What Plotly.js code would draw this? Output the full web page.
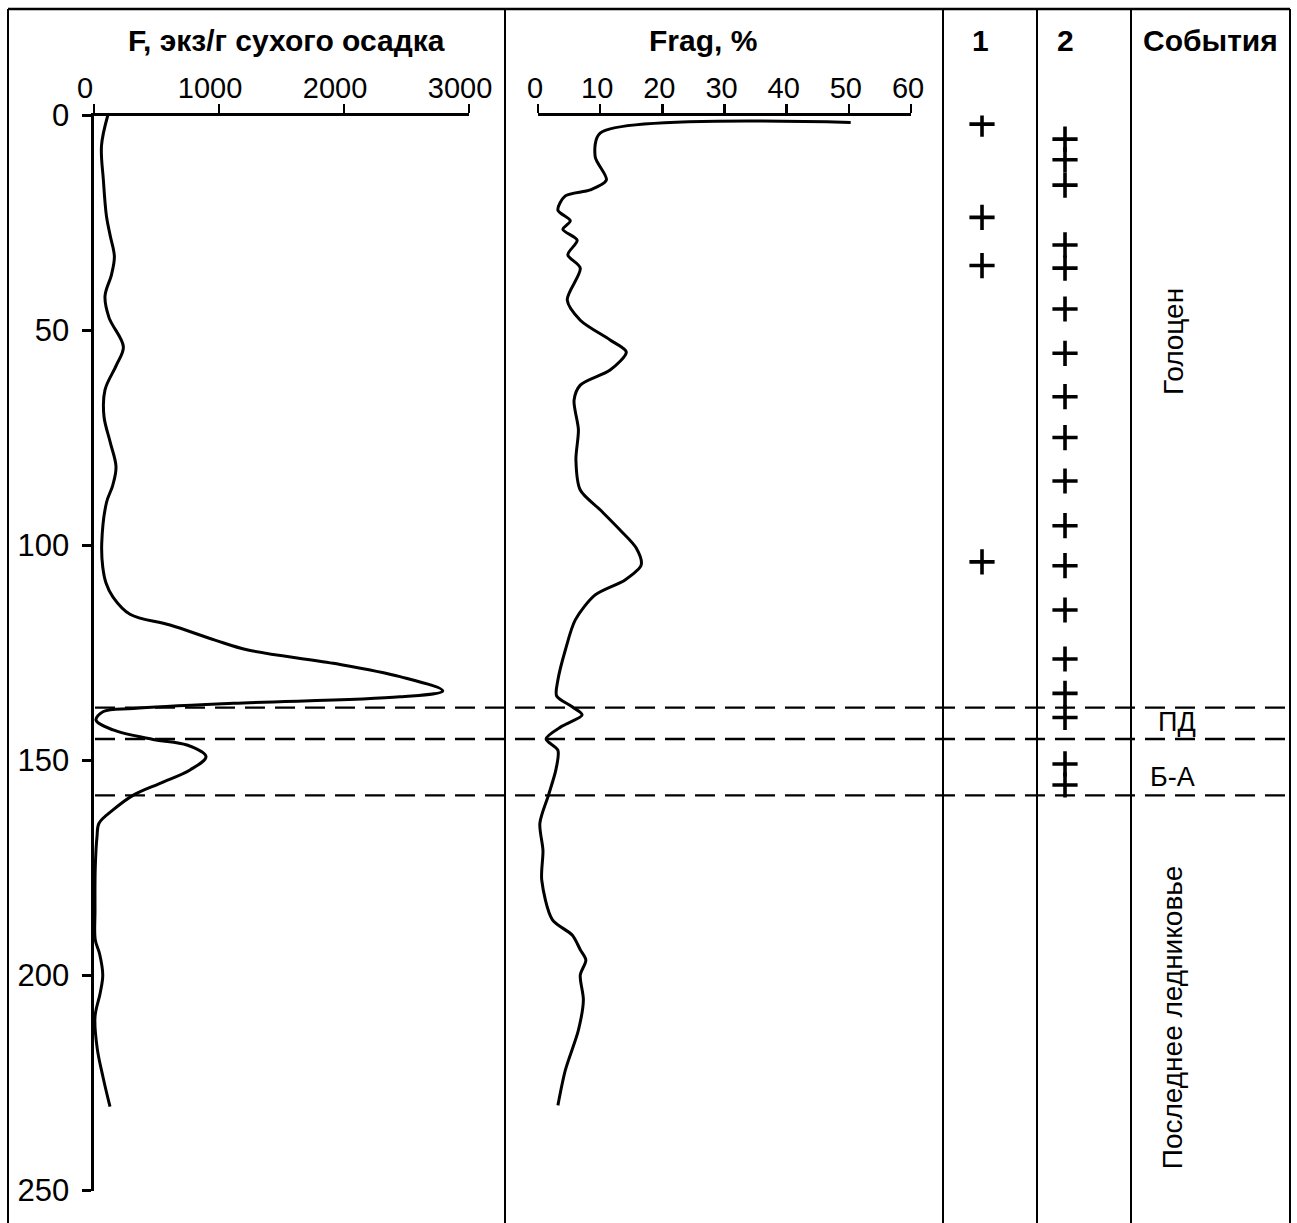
<!DOCTYPE html>
<html>
<head>
<meta charset="utf-8">
<script src="https://cdn.plot.ly/plotly-3.0.1.min.js"></script>
<style>html,body{margin:0;padding:0;background:#fff;}#chart{width:1297px;height:1223px;}</style>
</head>
<body>
<div id="chart"></div>
<script>
// ---- data ----
const fDepth = [0, 7, 15, 23.5, 28, 32.8, 37, 42, 47, 53.8, 58, 63.8, 70, 76, 81.7, 86, 90, 99.4, 105, 108.7, 112, 116, 118.5, 122, 124.3, 127.4, 130.5, 133.8, 135.2, 136.7, 137.9, 138.6, 140.6, 142.9, 145.1, 146.4, 149.1, 152.2, 155.3, 158.1, 161.5, 164.6, 167.7, 175, 185, 191.7, 195, 199.9, 204, 209.6, 217, 224, 230.5];
const fValues = [110, 60, 75, 100, 130, 163, 140, 88, 120, 235, 180, 88, 80, 130, 176, 150, 100, 62, 70, 96, 152, 288, 608, 968, 1232, 1914, 2448, 2790, 2448, 1115, 315, 75, 16, 152, 474, 744, 896, 768, 528, 312, 152, 40, 24, 10, 8, 10, 45, 70, 50, 8, 26, 75, 128];

const fragDepth = [1.6, 4.1, 9.6, 15, 17.3, 18.7, 22, 24.5, 26.5, 29, 32.4, 35.5, 42.9, 47.6, 52.2, 55, 59.2, 62.7, 66.2, 73.1, 80.1, 87.1, 91.7, 96.4, 100.6, 104.5, 108, 111.5, 117.3, 124.3, 131.3, 135, 137.5, 139.4, 142, 145, 147.6, 152, 158, 164.6, 170.9, 177.8, 187, 190.6, 194, 196.4, 199.9, 205.7, 212.7, 222, 230.2];
const fragValues = [50.3, 10, 9.2, 11, 8.4, 4.4, 3.2, 5.2, 4, 6.3, 4.8, 6.8, 4.7, 6.8, 11.6, 14.2, 11.6, 6.8, 5.8, 6.5, 6.1, 6.8, 10, 13.2, 15.8, 16.6, 14, 9.2, 6, 4.4, 3.2, 3, 5.5, 7.1, 3.9, 1.3, 3.2, 2.9, 1.7, 0.3, 0.8, 0.6, 2.3, 5.5, 6.8, 7.7, 6.8, 7.3, 6.5, 4.4, 3.2];

const col1Depths = [2, 23.7, 34.9, 103.8];
const col2Depths = [5.5, 10.3, 16.2, 30.1, 35.5, 45, 55.3, 65.4, 74.9, 85, 95.4, 104.7, 115, 126.4, 134.4, 140, 150.8, 155.7];

const boundaryDepths = [137.7, 145, 158.1];
const eventLabels = ["Голоцен", "ПД", "Б-А", "Последнее ледниковье"];
const eventDepths = [52.7, 141, 153.8, 209.7];
const eventAngles = [-90, 0, 0, -90];

const headers = ["F, экз/г сухого осадка", "Frag, %", "1", "2", "События"];
const fTicks = [0, 1000, 2000, 3000];
const fragTicks = [0, 10, 20, 30, 40, 50, 60];
const depthTicks = [0, 50, 100, 150, 200, 250];

// ---- layout helpers (pixel -> paper) ----
const W = 1297, H = 1223;
const px = v => v / W;
const py = v => 1 - v / H;
const FONT = "Liberation Sans, Arial, sans-serif";

const plusMarker = {symbol: 'cross-thin', size: 18, color: '#000', line: {width: 3.6, color: '#000'}};

const traces = [
  {x: fValues, y: fDepth, xaxis: 'x', yaxis: 'y', mode: 'lines',
   line: {color: '#000', width: 3, shape: 'spline', smoothing: 1}},
  {x: fragValues, y: fragDepth, xaxis: 'x2', yaxis: 'y', mode: 'lines',
   line: {color: '#000', width: 3, shape: 'spline', smoothing: 0.8}},
  {x: col1Depths.map(() => 1), y: col1Depths, xaxis: 'x3', yaxis: 'y', mode: 'markers', marker: plusMarker},
  {x: col2Depths.map(() => 2), y: col2Depths, xaxis: 'x3', yaxis: 'y', mode: 'markers', marker: plusMarker}
];

const shapes = [];
// outer border (top, left, right)
shapes.push({type: 'line', xref: 'paper', yref: 'paper', x0: px(8), x1: px(1290), y0: py(9), y1: py(9), line: {color: '#000', width: 2.5}});
shapes.push({type: 'line', xref: 'paper', yref: 'paper', x0: px(8), x1: px(8), y0: py(9), y1: 0, line: {color: '#000', width: 2}});
shapes.push({type: 'line', xref: 'paper', yref: 'paper', x0: px(1290), x1: px(1290), y0: py(9), y1: 0, line: {color: '#000', width: 2}});
// column dividers
[505, 943, 1037, 1131].forEach(xp => shapes.push({type: 'line', xref: 'paper', yref: 'paper', x0: px(xp), x1: px(xp), y0: py(9), y1: 0, line: {color: '#000', width: 2}}));
// boundary dashed lines
boundaryDepths.forEach(d => shapes.push({type: 'line', xref: 'paper', yref: 'y', x0: px(95), x1: px(1290), y0: d, y1: d, line: {color: '#000', width: 2.4, dash: '20px,10px'}}));

const annotations = [];
const headerX = [286, 703, 980, 1065, 1210];
headers.forEach((t, i) => annotations.push({text: t, xref: 'paper', yref: 'paper', x: px(headerX[i]), y: py(40), xanchor: 'center', yanchor: 'middle', showarrow: false, font: {family: FONT, size: 30, color: '#000', weight: 'bold'}}));
const eventX = [1173, 1177, 1172, 1172];
const eventSizes = [28, 27, 27, 28];
eventLabels.forEach((t, i) => annotations.push({text: t, xref: 'paper', yref: 'y', x: px(eventX[i]), y: eventDepths[i], xanchor: 'center', yanchor: 'middle', textangle: eventAngles[i], showarrow: false, font: {family: FONT, size: eventSizes[i], color: '#000'}}));

const axisCommon = {showgrid: false, zeroline: false, showline: true, linecolor: '#000', ticks: 'outside', tickcolor: '#000', ticklen: 9, tickwidth: 2.5, fixedrange: true};

const layout = {
  width: W, height: H,
  margin: {l: 0, r: 0, t: 0, b: 0},
  paper_bgcolor: '#fff', plot_bgcolor: 'rgba(0,0,0,0)',
  showlegend: false,
  xaxis: Object.assign({}, axisCommon, {domain: [px(94), px(469)], range: [0, 3000], side: 'top', anchor: 'y', tickvals: fTicks, linewidth: 3,
    tickfont: {family: FONT, size: 29, color: '#000'}, ticklabelstandoff: -6, ticklabelshift: -9}),
  xaxis2: Object.assign({}, axisCommon, {domain: [px(538), px(911)], range: [0, 60], side: 'top', anchor: 'y', tickvals: fragTicks, linewidth: 3,
    tickfont: {family: FONT, size: 29, color: '#000'}, ticklabelstandoff: -6, ticklabelshift: -3}),
  xaxis3: {domain: [px(943), px(1131)], range: [0.53, 2.795], anchor: 'y', visible: false, fixedrange: true},
  yaxis: Object.assign({}, axisCommon, {domain: [py(1190.5), py(115.5)], range: [250, 0], anchor: 'x', tickvals: depthTicks, linewidth: 3.5,
    tickfont: {family: FONT, size: 31, color: '#000'}, ticklabelstandoff: 6}),
  shapes: shapes,
  annotations: annotations
};

Plotly.newPlot('chart', traces, layout, {displayModeBar: false, staticPlot: true});
</script>
</body>
</html>
